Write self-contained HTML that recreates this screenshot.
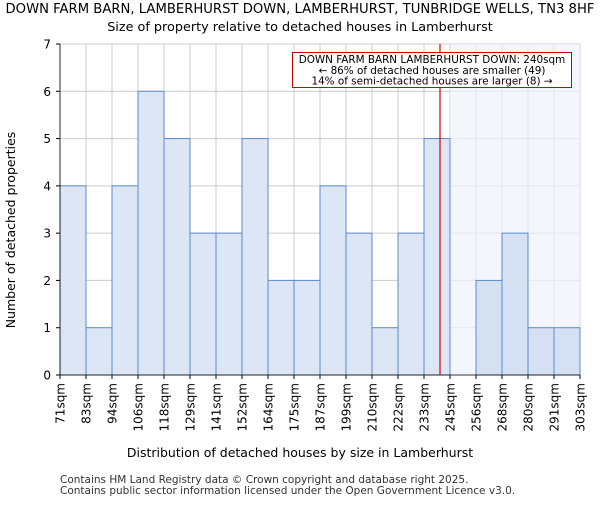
<!DOCTYPE html>
<html><head><meta charset="utf-8"><style>body{margin:0;background:#fff}svg{font-family:"DejaVu Sans","Liberation Sans",sans-serif}</style></head>
<body>
<svg id="chart" width="600" height="500">
<text x="300" y="13" font-size="13.2" text-anchor="middle">DOWN FARM BARN, LAMBERHURST DOWN, LAMBERHURST, TUNBRIDGE WELLS, TN3 8HF</text>
<text x="300" y="31" font-size="12.8" text-anchor="middle">Size of property relative to detached houses in Lamberhurst</text>
<g id="grid"></g>
<rect x="450" y="44" width="130" height="331" fill="#eef2fb" opacity="0.7"/>
<g id="bars"></g>
<line x1="440" y1="44" x2="440" y2="375" stroke="#d00" stroke-width="1.2"/>
<rect x="292.5" y="52.5" width="279" height="35" fill="#fff" stroke="#c00"/>
<text x="432" y="63" font-size="10.4" text-anchor="middle">DOWN FARM BARN LAMBERHURST DOWN: 240sqm</text>
<text x="432" y="74" font-size="10.4" text-anchor="middle">← 86% of detached houses are smaller (49)</text>
<text x="432" y="84.5" font-size="10.4" text-anchor="middle">14% of semi-detached houses are larger (8) →</text>
<line x1="60" y1="44" x2="60" y2="375" stroke="#000" stroke-width="0.8"/>
<line x1="60" y1="375" x2="580" y2="375" stroke="#000" stroke-width="0.8"/>
<g id="axes"></g>
<text x="15" y="230" font-size="12.5" text-anchor="middle" transform="rotate(-90 15 230)">Number of detached properties</text>
<text x="300" y="457" font-size="12.5" text-anchor="middle">Distribution of detached houses by size in Lamberhurst</text>
<text x="60" y="483" font-size="10.5" fill="#333">Contains HM Land Registry data © Crown copyright and database right 2025.</text>
<text x="60" y="494" font-size="10.5" fill="#333">Contains public sector information licensed under the Open Government Licence v3.0.</text>
</svg>
<script>
const edgeLabels=["71sqm","83sqm","94sqm","106sqm","118sqm","129sqm","141sqm","152sqm","164sqm","175sqm","187sqm","199sqm","210sqm","222sqm","233sqm","245sqm","256sqm","268sqm","280sqm","291sqm","303sqm"];
const counts=[4,1,4,6,5,3,3,5,2,2,4,3,1,3,5,0,2,3,1,1];
const yTicks=[0,1,2,3,4,5,6,7];
const NS="http://www.w3.org/2000/svg";
const x0=60,x1=580,y0=375,y1=44,yMax=7;
const bw=(x1-x0)/counts.length;
const xs=i=>x0+i*bw;
const ys=v=>y0-(v/yMax)*(y0-y1);
function mk(tag,attrs,parent){const e=document.createElementNS(NS,tag);for(const k in attrs)e.setAttribute(k,attrs[k]);document.getElementById(parent).appendChild(e);return e;}
yTicks.forEach(t=>{
  const g=mk('line',{x1:x0,x2:x1,y1:ys(t),y2:ys(t),stroke:'#ccc','stroke-width':1},'grid');
  
  
  const tk=mk('line',{x1:x0-4,x2:x0,y1:ys(t),y2:ys(t),stroke:'#000'},'axes');
  
  
  const l=mk('text',{x:x0-9,y:ys(t)+4.5,'font-size':12,'text-anchor':'end'},'axes');
  l.textContent=t;
  
  
});
edgeLabels.forEach((s,i)=>{
  const x=xs(i);
  const g=mk('line',{x1:x,x2:x,y1:y1,y2:y0,stroke:'#ccc','stroke-width':1},'grid');
  
  
  const tk=mk('line',{x1:x,x2:x,y1:y0,y2:y0+4,stroke:'#000'},'axes');
  
  
  const l=mk('text',{x:x+4.5,y:y0+8,'font-size':12,'text-anchor':'end',transform:`rotate(-90 ${x+4.5} ${y0+8})`},'axes');
  l.textContent=s;
  
  
});
counts.forEach((v,i)=>{
  if(v<=0)return;
  const r=mk('rect',{x:xs(i),y:ys(v),width:bw,height:y0-ys(v),fill:xs(i)>=450?'#d6e0f3':'#dde6f4',stroke:'#5b8bd0','stroke-width':1},'bars');
  
  
});
</script>
</body></html>
